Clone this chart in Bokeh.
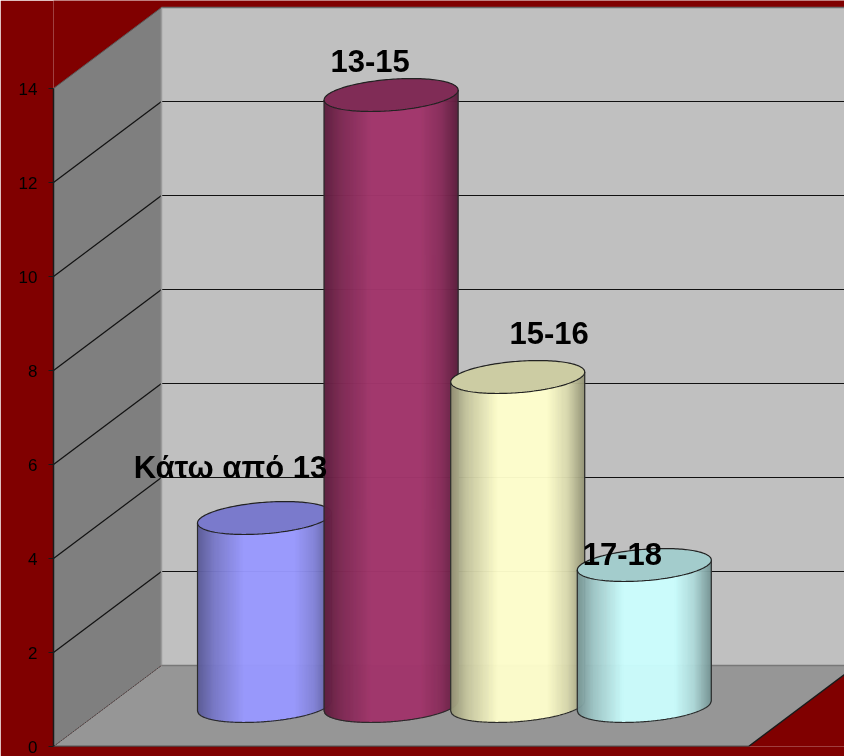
import numpy as np
from bokeh.plotting import figure
from bokeh.models import FixedTicker, Range1d
from bokeh.core.properties import value
from bokeh.embed import file_html
from bokeh.resources import INLINE

# ---- data ----
categories = ["Κάτω από 13", "13-15", "15-16", "17-18"]
values = [4, 13, 7, 3]
tick_values = [0, 2, 4, 6, 8, 10, 12, 14]
base_colors = ["#9999FF", "#A1376C", "#FFFFCC", "#CCFFFF"]

# ---- style ----
W, H = 844, 756
PX_X, PX_Y = 126.6, 47.0          # pixels per category / per unit
FRAME_L, FRAME_B = 53, 10
X_AT_LEFT = (FRAME_L - 264) / PX_X
DX, DY = 108 / PX_X, 81 / PX_Y    # projection of the chart's depth
FLOOR_R = (748 - 264) / PX_X
BACK_R = FLOOR_R + DX
TOP = tick_values[-1]
BASE = 0.5 * DY                   # bars stand at mid-depth
A, B, C = 67 / PX_X, 15.7 / PX_Y, 5 / PX_Y   # tilted ellipse
RED = "#800000"

label_off = [(-34, 50.5), (-21, 34.5), (31.5, 44.5), (-22, 11.5)]

p = figure(width=W, height=H, output_backend="svg", toolbar_location=None,
           x_range=Range1d(X_AT_LEFT, X_AT_LEFT + (W - FRAME_L) / PX_X),
           y_range=Range1d(0, (H - FRAME_B) / PX_Y),
           x_axis_type=None, min_border_left=FRAME_L, min_border_right=0,
           min_border_top=0, min_border_bottom=FRAME_B,
           background_fill_color=RED, border_fill_color=RED,
           outline_line_color=None)
p.stylesheets = [":host { position: fixed !important; left: 0 !important; top: 0 !important; }"]
p.grid.visible = False

ax = p.yaxis[0]
ax.ticker = FixedTicker(ticks=tick_values)
ax.bounds = (0, TOP)
ax.axis_line_color = "#1a1a1a"
ax.axis_line_width = 1.5
ax.major_tick_line_color = "#1a1a1a"
ax.major_tick_out = 5
ax.major_tick_in = 0
ax.minor_tick_line_color = None
ax.major_label_text_color = "#000000"
ax.major_label_text_font = "Liberation Sans"
ax.major_label_text_font_size = "17px"
ax.major_label_standoff = 11

# back wall, side wall, floor
p.patch([X_AT_LEFT + DX, BACK_R, BACK_R, X_AT_LEFT + DX], [DY, DY, TOP + DY, TOP + DY],
        fill_color="#C0C0C0", line_color=None)
p.patch([X_AT_LEFT, X_AT_LEFT + DX, X_AT_LEFT + DX, X_AT_LEFT], [0, DY, TOP + DY, TOP],
        fill_color="#7F7F7F", line_color=None)
p.patch([X_AT_LEFT, FLOOR_R, BACK_R, X_AT_LEFT + DX], [0, 0, DY, DY],
        fill_color="#969696", line_color=None)

# gridlines on the two walls
grid_vals = tick_values[1:-1]
p.segment([X_AT_LEFT] * len(grid_vals), grid_vals, [X_AT_LEFT + DX] * len(grid_vals),
          [v + DY for v in grid_vals], line_color="#111111", line_width=1.2)
p.segment([X_AT_LEFT + DX] * len(grid_vals), [v + DY for v in grid_vals],
          [BACK_R] * len(grid_vals), [v + DY for v in grid_vals],
          line_color="#111111", line_width=1.2)

# wall edges
p.line([X_AT_LEFT + DX, BACK_R], [TOP + DY, TOP + DY], line_color="#6e6e6e", line_width=1.5)
p.line([X_AT_LEFT + DX, X_AT_LEFT + DX], [DY, TOP + DY], line_color="#9a9a9a", line_width=1.5)
p.line([X_AT_LEFT + DX, BACK_R], [DY, DY], line_color="#777777", line_width=1.5)
p.line([X_AT_LEFT, X_AT_LEFT + DX], [TOP, TOP + DY], line_color="#5a5a5a", line_width=1)
p.line([X_AT_LEFT, X_AT_LEFT + DX], [0, DY], line_color="#444444", line_width=1, line_dash="2 1")
p.line([X_AT_LEFT, FLOOR_R, BACK_R], [0, 0, DY], line_color="#1a1a1a", line_width=1.5)


def hex_scale(color, f):
    r, g, b = (int(color[i:i + 2], 16) for i in (1, 3, 5))
    return "#%02x%02x%02x" % (int(r * f), int(g * f), int(b * f))


def arc(u):
    """front half of the tilted ellipse, relative to its centre"""
    return -B * np.sqrt(np.clip(1 - u ** 2, 0, 1)) + C * u


for i, (v, col) in enumerate(zip(values, base_colors)):
    edges = np.linspace(-1, 1, 135)
    xs, ys, fills = [], [], []
    for u0, u1 in zip(edges[:-1], edges[1:]):
        um = (u0 + u1) / 2
        f = np.interp(um, [-1, -0.75, -0.3, 0.45, 0.75, 1], [0.58, 0.78, 1, 1, 0.85, 0.58])
        fine = np.linspace(u0, u1, 3)
        px = i + A * fine
        xs.append(list(px) + list(px[::-1]))
        ys.append(list(BASE + arc(fine)) + list((BASE + v + arc(fine))[::-1]))
        fills.append(hex_scale(col, f))
    p.patches(xs, ys, fill_color=fills, line_color=fills, line_width=0.6)

    u = np.linspace(-1, 1, 121)
    p.line(list(i + A * u[[0]]) + list(i + A * u) + list(i + A * u[[-1]]),
           [BASE + v - C] + list(BASE + arc(u)) + [BASE + v + C],
           line_color="#2b2b2b", line_width=1.2)
    t = np.linspace(0, 2 * np.pi, 181)
    p.patch(i + A * np.cos(t), BASE + v + B * np.sin(t) + C * np.cos(t),
            fill_color=hex_scale(col, 0.8), line_color="#222222", line_width=1.2)

for i, (name, v, (ox, oy)) in enumerate(zip(categories, values, label_off)):
    p.text([i], [BASE + v], text=[name], x_offset=ox, y_offset=-oy,
           text_font=value("Liberation Sans"), text_font_style="bold",
           text_font_size="31px", text_color="#000000",
           text_align="center", text_baseline="middle")

open("out.html", "w").write(file_html(p, INLINE))
